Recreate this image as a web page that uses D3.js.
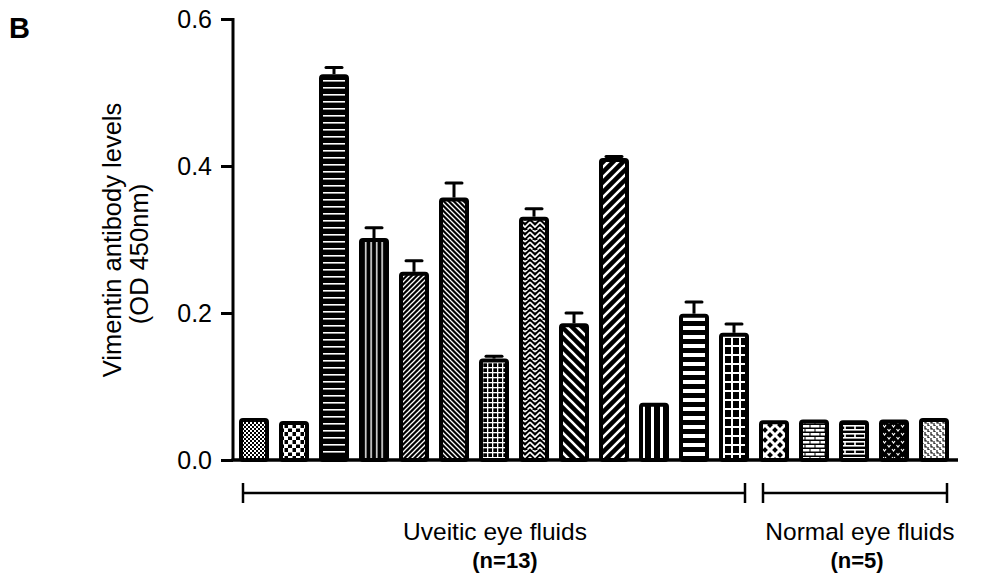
<!DOCTYPE html>
<html><head><meta charset="utf-8">
<script src="https://cdn.jsdelivr.net/npm/d3@7"></script>
<style>body{margin:0;background:#fff}svg{display:block}text{font-family:"Liberation Sans",Arial,sans-serif;fill:#000}</style>
</head><body><svg id="c" width="986" height="578"></svg>
<script>
const samples = ["U1","U2","U3","U4","U5","U6","U7","U8","U9","U10","U11","U12","U13","N1","N2","N3","N4","N5"];
const means  = [0.057,0.053,0.525,0.302,0.256,0.357,0.138,0.331,0.186,0.411,0.078,0.199,0.173,0.054,0.055,0.054,0.055,0.057];
const errs   = [0,0,0.009,0.014,0.015,0.020,0.003,0.011,0.014,0.002,0,0.016,0.012,0,0,0,0,0];
const yTicks = [0.0,0.2,0.4,0.6];
const groups = [{label:"Uveitic eye fluids", n:"(n=13)", from:0, to:12},{label:"Normal eye fluids", n:"(n=5)", from:13, to:17}];

const svg = d3.select("#c");
const y = d3.scaleLinear().domain([0,0.6]).range([460,19]);
const x = d3.scaleBand().domain(d3.range(samples.length)).range([234,954]).paddingInner(0.25).paddingOuter(0.125);

const defs = svg.append("defs");
function pat(id,w,h,bg,draw){
  const p = defs.append("pattern").attr("id",id).attr("patternUnits","userSpaceOnUse").attr("width",w).attr("height",h);
  p.append("rect").attr("width",w).attr("height",h).attr("fill",bg);
  draw(p);
}
const W="#fff",K="#000";
pat("p0",4,4,K,p=>{p.append("rect").attr("x",0).attr("y",0).attr("width",2).attr("height",2).attr("fill",W);p.append("rect").attr("x",2).attr("y",2).attr("width",2).attr("height",2).attr("fill",W);});
pat("p1",8,8,K,p=>{p.append("rect").attr("x",0).attr("y",0).attr("width",4.5).attr("height",4.5).attr("fill",W);p.append("rect").attr("x",4).attr("y",4).attr("width",4.5).attr("height",4.5).attr("fill",W);});
pat("p2",7,7,K,p=>{p.append("rect").attr("x",0).attr("y",3).attr("width",7).attr("height",1.6).attr("fill",W);});
pat("p3",5.5,6,K,p=>{p.append("rect").attr("x",2).attr("y",0).attr("width",1.4).attr("height",6).attr("fill",W);});
pat("p4",5,5,K,p=>{p.append("path").attr("d","M-1,6 L6,-1 M-1,1 L1,-1 M4,6 L6,4").attr("stroke",W).attr("stroke-width",1.3);});
pat("p5",5,5,K,p=>{p.append("path").attr("d","M-1,-1 L6,6 M4,-1 L6,1 M-1,4 L1,6").attr("stroke",W).attr("stroke-width",1.3);});
pat("p6",5,5,K,p=>{p.append("rect").attr("x",0).attr("y",2).attr("width",5).attr("height",1.3).attr("fill",W);p.append("rect").attr("x",2).attr("y",0).attr("width",1.3).attr("height",5).attr("fill",W);});
pat("p7",10,10,K,p=>{p.append("path").attr("d","M0,2 L5,7 L10,2 M0,7 L2.5,9.5 M10,7 L7.5,9.5 M5,2 L7.5,-0.5 M5,2 L2.5,-0.5").attr("fill","none").attr("stroke",W).attr("stroke-width",1.6);});
pat("p8",10,10,K,p=>{p.append("path").attr("d","M-2,-2 L12,12 M-2,8 L2,12 M8,-2 L12,2").attr("stroke",W).attr("stroke-width",2.6);});
pat("p9",10,10,K,p=>{p.append("path").attr("d","M-2,12 L12,-2 M-2,2 L2,-2 M8,12 L12,8").attr("stroke",W).attr("stroke-width",2.6);});
pat("p10",9,10,K,p=>{p.append("rect").attr("x",3).attr("y",0).attr("width",3).attr("height",10).attr("fill",W);});
pat("p11",10,9,K,p=>{p.append("rect").attr("x",0).attr("y",2).attr("width",10).attr("height",4).attr("fill",W);});
pat("p12",8,9,K,p=>{p.append("rect").attr("x",0).attr("y",3).attr("width",8).attr("height",2).attr("fill",W);p.append("rect").attr("x",3).attr("y",0).attr("width",2).attr("height",9).attr("fill",W);});
pat("p13",10,10,K,p=>{p.append("path").attr("d","M0,0 L10,10 M10,0 L0,10").attr("stroke",W).attr("stroke-width",3);});
pat("p14",10,8,K,p=>{p.append("rect").attr("x",0.5).attr("y",1).attr("width",9).attr("height",2.5).attr("fill",W);p.append("rect").attr("x",5.5).attr("y",5).attr("width",9).attr("height",2.5).attr("fill",W);p.append("rect").attr("x",-4.5).attr("y",5).attr("width",9).attr("height",2.5).attr("fill",W);});
pat("p15",10,8,K,p=>{p.append("rect").attr("x",0).attr("y",1).attr("width",10).attr("height",1.6).attr("fill",W);p.append("rect").attr("x",4.2).attr("y",2).attr("width",1.6).attr("height",3).attr("fill",W);p.append("rect").attr("x",0).attr("y",5).attr("width",10).attr("height",1.6).attr("fill",W);});
pat("p16",9,8,K,p=>{p.append("path").attr("d","M1,1 L2.5,3 L4,1 M5.5,5 L7,7 L8.5,5").attr("fill","none").attr("stroke",W).attr("stroke-width",1.1);});
pat("p17",6,6,W,p=>{p.append("path").attr("d","M1,0 L1,3 L3,3 M4,3 L4,6 L6,6").attr("fill","none").attr("stroke",K).attr("stroke-width",1.1);});

const g = svg.append("g");
const bars = g.selectAll("g.bar").data(samples.map((s,i)=>({s,i,v:means[i],e:errs[i]}))).enter().append("g");
bars.append("rect")
  .attr("x",d=>x(d.i)+2).attr("width",x.bandwidth()-4)
  .attr("y",d=>y(d.v)+2).attr("height",d=>y(0)-y(d.v)-2)
  .attr("rx",2).attr("fill",d=>`url(#p${d.i})`).attr("stroke","#000").attr("stroke-width",4);
const eb = bars.filter(d=>d.e>0);
eb.append("line").attr("x1",d=>x(d.i)+x.bandwidth()/2).attr("x2",d=>x(d.i)+x.bandwidth()/2)
  .attr("y1",d=>y(d.v)).attr("y2",d=>y(d.v+d.e)).attr("stroke","#000").attr("stroke-width",3);
eb.append("line").attr("x1",d=>x(d.i)+x.bandwidth()/2-8).attr("x2",d=>x(d.i)+x.bandwidth()/2+8)
  .attr("y1",d=>y(d.v+d.e)).attr("y2",d=>y(d.v+d.e)).attr("stroke","#000").attr("stroke-width",3).attr("stroke-linecap","round");

// axes
const yAxis = d3.axisLeft(y).tickValues(yTicks).tickFormat(d3.format(".1f")).tickSize(12).tickPadding(9);
const ya = svg.append("g").attr("transform","translate(233,0)").call(yAxis);
ya.select(".domain").attr("stroke","#000").attr("stroke-width",3).attr("d","M-12,19.5H0V460");
ya.selectAll(".tick line").attr("stroke","#000").attr("stroke-width",3);
ya.selectAll(".tick text").attr("font-size",25).attr("font-family","Liberation Sans, Arial, sans-serif").attr("fill","#000");
svg.append("line").attr("x1",231.5).attr("x2",958).attr("y1",y(0)).attr("y2",y(0)).attr("stroke","#000").attr("stroke-width",3.5);

// y label
svg.append("text").attr("transform","translate(121,240) rotate(-90)").attr("text-anchor","middle").attr("font-size",25.5).text("Vimentin antibody levels");
svg.append("text").attr("transform","translate(148,254) rotate(-90)").attr("text-anchor","middle").attr("font-size",25.5).text("(OD 450nm)");
svg.append("text").attr("x",9).attr("y",38).attr("font-size",29).attr("font-weight","bold").text("B");

// group brackets
const bx = [[243,745],[763,947]];
groups.forEach((gr,k)=>{
  const [a,b]=bx[k];
  const gg = svg.append("g").attr("stroke","#000").attr("stroke-width",2.5);
  gg.append("line").attr("x1",a).attr("x2",b).attr("y1",493).attr("y2",493);
  gg.append("line").attr("x1",a).attr("x2",a).attr("y1",483).attr("y2",503);
  gg.append("line").attr("x1",b).attr("x2",b).attr("y1",483).attr("y2",503);
});
svg.append("text").attr("x",495).attr("y",540).attr("text-anchor","middle").attr("font-size",24.5).text(groups[0].label);
svg.append("text").attr("x",505).attr("y",568).attr("text-anchor","middle").attr("font-size",22).attr("font-weight","bold").text(groups[0].n);
svg.append("text").attr("x",860).attr("y",540).attr("text-anchor","middle").attr("font-size",24.5).text(groups[1].label);
svg.append("text").attr("x",857).attr("y",568).attr("text-anchor","middle").attr("font-size",22).attr("font-weight","bold").text(groups[1].n);
</script></body></html>
